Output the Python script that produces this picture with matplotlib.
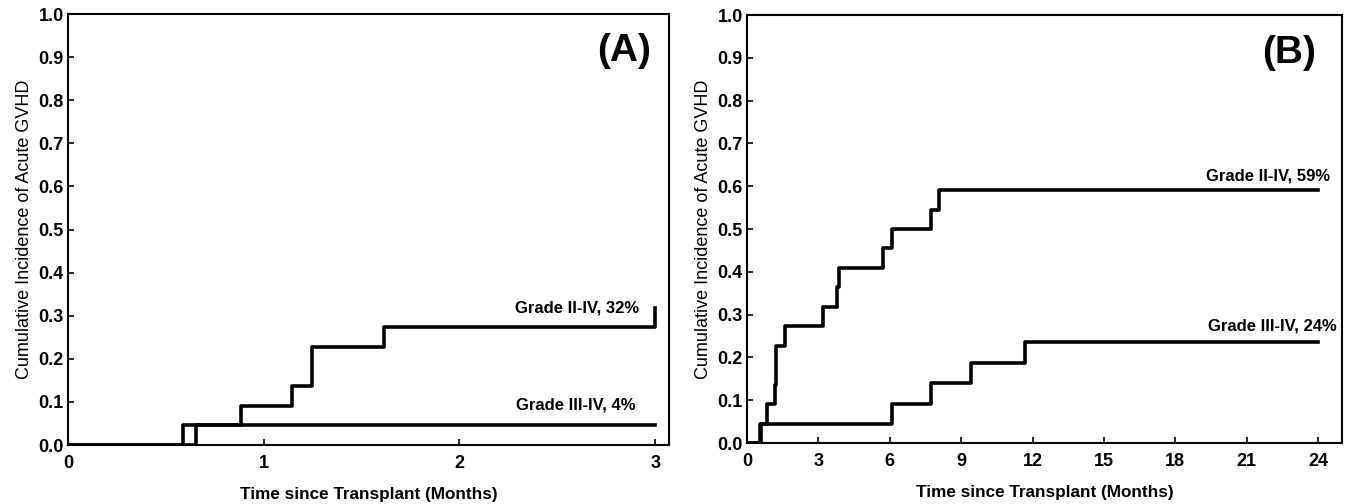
import matplotlib
matplotlib.use("Agg")
import matplotlib.pyplot as plt

plt.rcParams['font.family'] = ['Liberation Sans', 'DejaVu Sans']

# Panel A data (months)
a_t_24 = [0, 0.59, 0.886, 1.147, 1.248, 1.613, 3.0]
a_v_24 = [0, 0.0455, 0.091, 0.136, 0.227, 0.273, 0.318]
a_t_34 = [0, 0.654, 3.0]
a_v_34 = [0, 0.0455, 0.0455]

# Panel B data (months)
b_t_24 = [0, 0.55, 0.85, 1.16, 1.22, 1.58, 3.18, 3.8, 3.87, 5.73, 6.1, 7.73, 8.05, 24]
b_v_24 = [0, 0.0455, 0.091, 0.136, 0.227, 0.273, 0.318, 0.364, 0.409, 0.455, 0.5, 0.545, 0.591, 0.591]
b_t_34 = [0, 0.57, 6.1, 7.73, 9.4, 11.7, 24]
b_v_34 = [0, 0.0455, 0.091, 0.14, 0.188, 0.236, 0.236]

a_xticks = [0, 1, 2, 3]
b_xticks = [0, 3, 6, 9, 12, 15, 18, 21, 24]
yticks = [0.0, 0.1, 0.2, 0.3, 0.4, 0.5, 0.6, 0.7, 0.8, 0.9, 1.0]

fig = plt.figure(figsize=(13.54, 5.04), dpi=100)
axA = fig.add_axes([0.0502, 0.117, 0.4438, 0.855])
axB = fig.add_axes([0.5517, 0.121, 0.4393, 0.849])

lw = 2.6

def style(ax, xticks, xlim):
    ax.set_xlim(*xlim)
    ax.set_ylim(0, 1.0)
    ax.set_xticks(xticks)
    ax.set_yticks(yticks)
    ax.set_yticklabels([f"{v:.1f}" for v in yticks])
    ax.tick_params(direction='in', length=4, width=1.2, labelsize=13)
    ax.tick_params(axis='x', pad=7)
    ax.tick_params(axis='y', pad=3)
    for lab in ax.get_xticklabels() + ax.get_yticklabels():
        lab.set_fontweight('bold')
    for s in ax.spines.values():
        s.set_linewidth(1.5)
    ax.set_xlabel("Time since Transplant (Months)", fontsize=12.3, fontweight='bold', labelpad=11)
    ax.set_ylabel("Cumulative Incidence of Acute GVHD", fontsize=13, labelpad=4)

axA.plot(a_t_34, a_v_34, drawstyle='steps-post', color='black', lw=lw)
axA.plot(a_t_24, a_v_24, drawstyle='steps-post', color='black', lw=lw)
style(axA, a_xticks, (0, 3.07))
axA.text(2.92, 0.319, "Grade II-IV, 32%", ha='right', va='center', fontsize=12, fontweight='bold')
axA.text(2.90, 0.093, "Grade III-IV, 4%", ha='right', va='center', fontsize=12, fontweight='bold')
axA.text(2.84, 0.914, "(A)", ha='center', va='center', fontsize=28, fontweight='bold')

axB.plot(b_t_34, b_v_34, drawstyle='steps-post', color='black', lw=lw)
axB.plot(b_t_24, b_v_24, drawstyle='steps-post', color='black', lw=lw)
style(axB, b_xticks, (0, 25))
axB.text(24.5, 0.624, "Grade II-IV, 59%", ha='right', va='center', fontsize=12, fontweight='bold')
axB.text(24.8, 0.274, "Grade III-IV, 24%", ha='right', va='center', fontsize=12, fontweight='bold')
axB.text(22.77, 0.911, "(B)", ha='center', va='center', fontsize=28, fontweight='bold')

fig.savefig("out.png", dpi=100)
